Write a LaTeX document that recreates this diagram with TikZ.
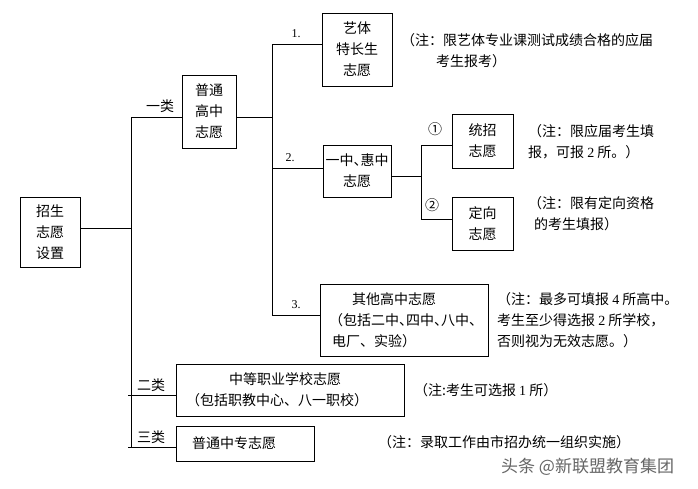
\documentclass[tikz,border=0pt]{standalone}
\usepackage{fontspec}
\setmainfont{Liberation Serif}
\newfontfamily\cjk{Noto Sans CJK SC}
\newfontfamily\cjkh[RawFeature=+halt]{Noto Sans CJK SC}
\newcommand\dg[1]{{\rmfamily #1}}
\tikzset{
  box/.style={draw, line width=0.9pt, inner sep=0pt, align=center, font=\cjk\fontsize{14}{21}\selectfont},
  note/.style={anchor=west, inner sep=0pt, align=left, font=\cjk\fontsize{14}{21}\selectfont},
  lab/.style={inner sep=0pt, font=\cjk\fontsize{14}{17}\selectfont},
  num/.style={inner sep=0pt, font=\rmfamily\fontsize{12}{14}\selectfont},
  conn/.style={line width=0.9pt, line cap=rect},
}
\begin{document}
\begin{tikzpicture}[x=1pt,y=-1pt]
\fill[white] (0,0) rectangle (698,488);
\useasboundingbox (0,0) rectangle (698,488);

% boxes
\node[box, minimum width=60pt, minimum height=70pt] (root) at (50,232) {招生\\志愿\\设置};
\node[box, minimum width=54pt, minimum height=73pt] (g) at (209,111.5) {普通\\高中\\志愿};
\node[box, minimum width=70pt, minimum height=73pt] (a) at (357,49.5) {艺体\\特长生\\志愿};
\node[box, minimum width=68pt, minimum height=52pt] (yh) at (357,171) {{\cjkh 一中、惠中}\\志愿};
\node[box, minimum width=61pt, minimum height=54pt] (tz) at (482.5,141) {统招\\志愿};
\node[box, minimum width=61pt, minimum height=53pt] (dx) at (482.5,223.5) {定向\\志愿};
\node[box, align=left, text width=144pt, inner xsep=12pt, minimum height=72pt] (q) at (404,320)
  {\hspace*{20pt}其他高中志愿\\\mbox{\cjkh\hspace*{4pt}（包括二中、四中、八中、}\\电厂、实验）};
\node[box, align=left, text width=208pt, inner xsep=10pt, minimum height=52pt] (v) at (290,390)
  {\hspace*{43pt}中等职业学校志愿\\（包括职教中心、八一职校）};
\node[box, align=left, text width=106pt, inner xsep=16pt, minimum height=35pt] (z) at (245,443.5) {普通中专志愿};

% labels
\node[lab] (l1) at (160,106) {一类};
\node[lab] (l2) at (151,385) {二类};
\node[lab] (l3) at (151,437) {三类};
\node[num] (k1) at (296,34) {1.};
\node[num] (k2) at (290,158) {2.};
\node[num] (k3) at (296,305) {3.};
\node[lab] (c1) at (435,129) {①};
\node[lab] (c2) at (432,205) {②};

% notes
\node[note] (n1) at (401,51) {（注：限艺体专业课测试成绩合格的应届\\\hspace*{35pt}考生报考）};
\node[note] (n2) at (528,141.7) {（注：限应届考生填\\报，可报 \dg{2} 所。）};
\node[note] (n3) at (528,213.5) {（注：限有定向资格\\\hspace*{6pt}的考生填报）};
\node[note] (n4) at (497,320) {（注：最多可填报 \dg{4} 所高中。\\考生至少得选报 \dg{2} 所学校，\\否则视为无效志愿。）};
\node[note] (n5) at (414,390) {（注:考生可选报 \dg{1} 所）};
\node[note] (n6) at (378,442) {（注：录取工作由市招办统一组织实施）};
\node[note, font=\cjk\fontsize{17}{20}\selectfont, text=black!60] (wm) at (501,467) {头条 @新联盟教育集团};

% connectors
\coordinate (t1r) at (131,228);
\coordinate (t1a) at (131,117);
\coordinate (t1b) at (131,395);
\coordinate (t1c) at (131,447);
\draw[conn] (root.east |- t1r) -- (t1r);
\draw[conn] (t1a) -- (t1c);
\draw[conn] (t1a) -- (t1a -| g.west);
\draw[conn] ([xshift=-3pt]t1b) -- (t1b -| v.west);
\draw[conn] ([xshift=-3pt]t1c) -- (t1c -| z.west);

\coordinate (t2g) at (272,117);
\coordinate (t2a) at (272,44);
\coordinate (t2b) at (272,168);
\coordinate (t2c) at (272,315);
\draw[conn] (g.east |- t2g) -- (t2g);
\draw[conn] (t2a) -- (t2c);
\draw[conn] (t2a) -- (t2a -| a.west);
\draw[conn] (t2b) -- (t2b -| yh.west);
\draw[conn] (t2c) -- (t2c -| q.west);

\coordinate (t3y) at (421,176);
\coordinate (t3a) at (421,145);
\coordinate (t3b) at (421,219);
\draw[conn] (yh.east |- t3y) -- (t3y);
\draw[conn] (t3a) -- (t3b);
\draw[conn] (t3a) -- (t3a -| tz.west);
\draw[conn] (t3b) -- (t3b -| dx.west);
\end{tikzpicture}
\end{document}
